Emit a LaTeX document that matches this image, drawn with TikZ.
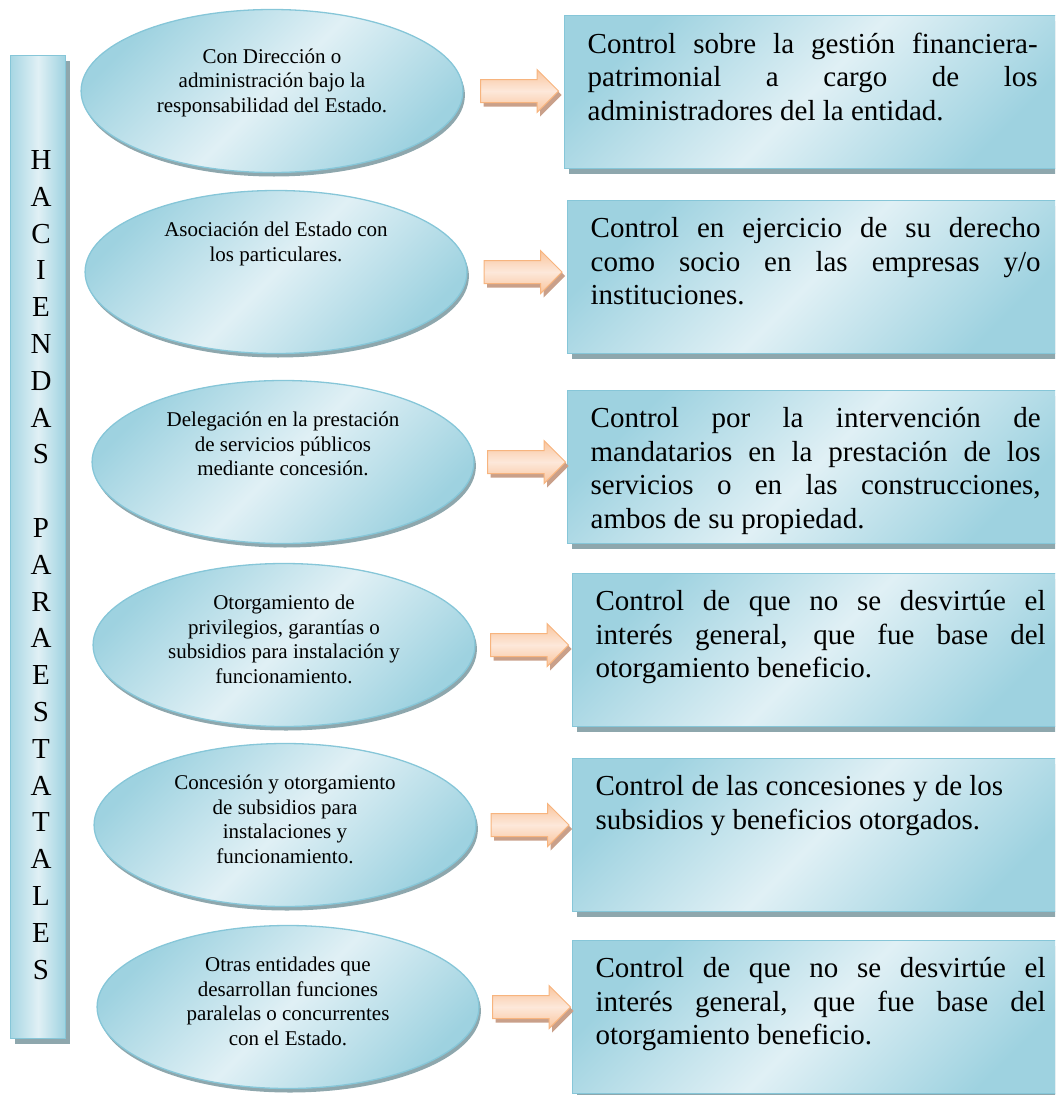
\documentclass[tikz,border=0pt]{standalone}
\usepackage{fontspec}
\setmainfont{Liberation Serif}
\usepackage{tikz}
\usetikzlibrary{shapes.geometric,shapes.arrows,shadows,calc}

\definecolor{edgeblue}{HTML}{86C6D8}
\definecolor{darkblue}{HTML}{9ED2E0}
\definecolor{lightblue}{HTML}{E0F0F5}
\definecolor{shadowgrey}{HTML}{8EA7AD}
\definecolor{peachedge}{HTML}{F7B47E}
\definecolor{peach}{HTML}{F9C49C}
\definecolor{peachlight}{HTML}{FDE8DA}
\definecolor{peachshadow}{HTML}{C9A08A}

\newcommand{\elltext}[1]{\parbox[c][100pt][t]{270pt}{\centering #1}}
\newcommand{\ctltext}[1]{\parbox[c][119pt][t]{450pt}{\tolerance=10000\hyphenpenalty=10000 #1}}

\begin{document}
\begin{tikzpicture}[x=1pt,y=-1pt,
    idea/.style={ellipse, draw=edgeblue, line width=1.3pt, minimum width=380pt,
      minimum height=163pt, inner sep=0pt, shading=axis, left color=darkblue,
      right color=darkblue, middle color=lightblue, shading angle=45,
      drop shadow={shadow xshift=2pt, shadow yshift=-4pt, fill=shadowgrey, opacity=1},
      font=\fontsize{21}{24.5}\selectfont},
    ctl/.style={rectangle, draw=edgeblue, line width=1.3pt, minimum width=496pt,
      minimum height=153pt, inner sep=0pt, anchor=north west, shading=axis,
      left color=darkblue, right color=darkblue, middle color=lightblue, shading angle=45,
      drop shadow={shadow xshift=4pt, shadow yshift=-5pt, fill=shadowgrey, opacity=1},
      font=\fontsize{29}{33.5}\selectfont},
    blockarrow/.style={single arrow, draw=peachedge, line width=1pt,
      single arrow head extend=10pt, single arrow tip angle=90,
      single arrow head indent=0pt, minimum height=78pt, inner xsep=0pt, inner ysep=11pt,
      shading=axis, top color=peach, bottom color=peach, middle color=peachlight,
      drop shadow={shadow xshift=3pt, shadow yshift=-4pt, fill=peachshadow, opacity=1}},
    bar/.style={rectangle, draw=edgeblue, line width=1.3pt, minimum width=55pt,
      minimum height=983pt, inner sep=0pt, anchor=north west, shading=axis,
      left color=darkblue!90, right color=darkblue, middle color=lightblue,
      drop shadow={shadow xshift=4pt, shadow yshift=-5pt, fill=shadowgrey, opacity=1}}]
  \useasboundingbox (0,0) rectangle (1055,1095);
  \clip (0,0) rectangle (1055,1095);

  % left column
  \node[bar] (bar) at (10,55) {};
  \node[text width=30pt, align=center, inner sep=0pt, font=\fontsize{29}{36.8}\selectfont]
    (barlabel) at (41,565) {H\\A\\C\\I\\E\\N\\D\\A\\S\\\mbox{}\\P\\A\\R\\A\\E\\S\\T\\A\\T\\A\\L\\E\\S};

  % forms
  \node[idea] (e1) at (272,91) {\elltext{\rule{0pt}{22pt}Con Dirección o\\ administración bajo la\\ responsabilidad del Estado.}};
  \node[idea] (e2) at (276,272) {\elltext{Asociación del Estado con\\ los particulares.}};
  \node[idea] (e3) at (283,462) {\elltext{Delegación en la prestación\\ de servicios públicos\\ mediante concesión.}};
  \node[idea] (e4) at (284,645) {\elltext{Otorgamiento de\\ privilegios, garantías o\\ subsidios para instalación y\\ funcionamiento.}};
  \node[idea] (e5) at (285,825) {\elltext{Concesión y otorgamiento\\ de subsidios para\\ instalaciones y\\ funcionamiento.}};
  \node[idea] (e6) at (288,1007) {\elltext{Otras entidades que\\ desarrollan funciones\\ paralelas o concurrentes\\ con el Estado.}};

  % controls
  \node[ctl] (c1) at (564,15) {\ctltext{Control sobre la gestión financiera-\linebreak patrimonial a cargo de los\linebreak administradores del la entidad.}};
  \node[ctl] (c2) at (567,200) {\ctltext{Control en ejercicio de su derecho\linebreak como socio en las empresas y/o\linebreak instituciones.}};
  \node[ctl] (c3) at (567,390) {\ctltext{Control por la intervención de\linebreak mandatarios en la prestación de los\linebreak servicios o en las construcciones,\linebreak ambos de su propiedad.}};
  \node[ctl] (c4) at (572,573) {\ctltext{Control de que no se desvirtúe el\linebreak interés general, que fue base del\linebreak otorgamiento beneficio.}};
  \node[ctl] (c5) at (572,758) {\ctltext{\raggedright Control de las concesiones y de los\\ subsidios y beneficios otorgados.}};
  \node[ctl] (c6) at (572,940) {\ctltext{Control de que no se desvirtúe el\linebreak interés general, que fue base del\linebreak otorgamiento beneficio.}};

  % arrows
  \foreach \i in {1,...,6}
    \node[blockarrow] (a\i) at ($(e\i.east)!0.5!(c\i.west |- e\i.east)$) {};
\end{tikzpicture}
\end{document}
